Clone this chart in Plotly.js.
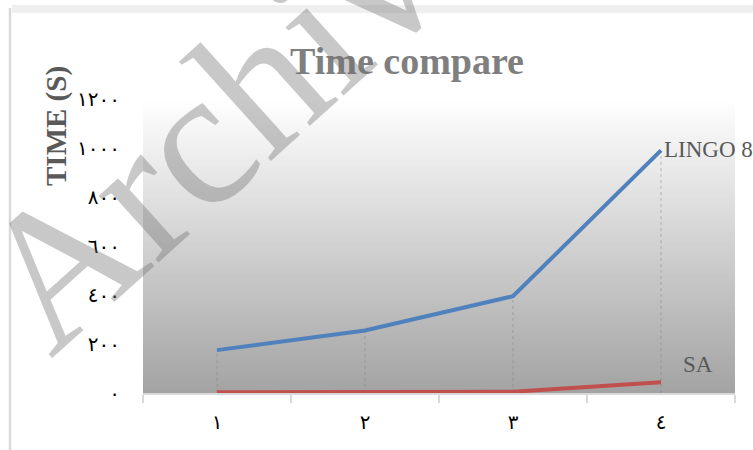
<!DOCTYPE html>
<html>
<head>
<meta charset="utf-8">
<script src="https://cdn.plot.ly/plotly-3.0.1.min.js"></script>
<style>
html,body{margin:0;padding:0;background:#fff;}
#chart{width:753px;height:450px;}
</style>
</head>
<body>
<div id="chart"></div>
<script>
// ---- data ----
var xCats = ["١", "٢", "٣", "٤"];
var lingo = [175, 255, 395, 990];
var sa = [3, 4, 5, 44];
var yTickVals = [0, 200, 400, 600, 800, 1000, 1200];
var yTickText = ["٠", "٢٠٠", "٤٠٠", "٦٠٠", "٨٠٠", "١٠٠٠", "١٢٠٠"];
var seriesNames = ["LINGO 8", "SA"];
var chartTitle = "Time compare";
var yTitle = "TIME (S)";
var watermark = "Archive";

// ---- layout helpers ----
var W = 753, H = 450;
var M = {l: 143, r: 18, t: 99, b: 57};
var PW = W - M.l - M.r, PH = H - M.t - M.b;
function px(x) { return (x - M.l) / PW; }
function py(y) { return (H - M.b - y) / PH; }

var shapes = [];
// vertical gradient background of plot area
var N = 120;
for (var i = 0; i < N; i++) {
  var f = (i + 0.5) / N;           // 0 bottom -> 1 top
  var c = Math.round(163 + (255 - 163) * f);
  var col = "rgb(" + c + "," + c + "," + c + ")";
  shapes.push({type: "rect", xref: "paper", yref: "paper",
    x0: 0, x1: 1, y0: i / N, y1: (i + 1.6) / N > 1 ? 1 : (i + 1.6) / N,
    fillcolor: col, line: {width: 0}, layer: "below"});
}
// drop lines from each category
for (var k = 0; k < xCats.length; k++) {
  shapes.push({type: "line", xref: "x", yref: "y",
    x0: k, x1: k, y0: 0, y1: Math.max(lingo[k], sa[k]),
    line: {color: "rgba(120,120,120,0.45)", width: 1, dash: "dot"}, layer: "below"});
}
// chart frame
shapes.push({type: "rect", xref: "paper", yref: "paper",
  x0: px(12), x1: px(753), y0: py(13), y1: py(5),
  fillcolor: "#efefef", line: {width: 0}});
shapes.push({type: "line", xref: "paper", yref: "paper",
  x0: px(10), x1: px(10), y0: py(8), y1: py(450),
  line: {color: "#d9d9d9", width: 2.5}});

var traces = [
  {x: xCats, y: lingo, name: seriesNames[0], type: "scatter", mode: "lines",
   line: {color: "#4F81BD", width: 4}, hoverinfo: "skip"},
  {x: xCats, y: sa, name: seriesNames[1], type: "scatter", mode: "lines",
   line: {color: "#C0504D", width: 4}, hoverinfo: "skip"}
];

var serif = "Liberation Serif, Times New Roman, serif";
var annotations = [
  {x: xCats[3], y: lingo[3], xref: "x", yref: "y", text: seriesNames[0],
   showarrow: false, xanchor: "left", yanchor: "middle", xshift: 1, yshift: 1,
   font: {family: serif, size: 23, color: "#595959"}},
  {x: xCats[3], y: sa[3], xref: "x", yref: "y", text: seriesNames[1],
   showarrow: false, xanchor: "left", yanchor: "middle", xshift: 20, yshift: 18,
   font: {family: serif, size: 23, color: "#595959"}},
  {x: px(56), y: py(126), xref: "paper", yref: "paper", text: "<b>" + yTitle + "</b>",
   textangle: -90, showarrow: false, xanchor: "center", yanchor: "middle",
   font: {family: serif, size: 29, color: "#595959"}},
  {x: px(240), y: py(100), xref: "paper", yref: "paper", text: watermark,
   textangle: -42, showarrow: false, xanchor: "center", yanchor: "middle",
   font: {family: serif, size: 195, color: "rgba(110,110,110,0.38)"}}
];

var layout = {
  width: W, height: H,
  margin: M,
  paper_bgcolor: "#ffffff",
  plot_bgcolor: "rgba(0,0,0,0)",
  showlegend: false,
  title: {text: "<b>" + chartTitle + "</b>", x: px(407), xref: "paper",
    y: 1 - 61 / H, yref: "container", xanchor: "center", yanchor: "middle",
    font: {family: serif, size: 38, color: "#7f7f7f"}},
  xaxis: {type: "category", range: [-0.5, 3.5], showgrid: false, zeroline: false,
    showline: true, linecolor: "#d9d9d9", linewidth: 2,
    ticks: "outside", tickson: "boundaries", ticklen: 8, tickwidth: 2, tickcolor: "#d9d9d9",
    ticklabelstandoff: 10,
    tickfont: {family: "DejaVu Sans", size: 20, color: "#000"}, fixedrange: true},
  yaxis: {range: [0, 1200], tickvals: yTickVals, ticktext: yTickText,
    showgrid: false, zeroline: false, showline: false, ticks: "",
    ticklabelstandoff: 22,
    tickfont: {family: "DejaVu Sans", size: 20, color: "#000"}, fixedrange: true},
  shapes: shapes,
  annotations: annotations
};

Plotly.newPlot("chart", traces, layout, {displayModeBar: false, staticPlot: true});
</script>
</body>
</html>
